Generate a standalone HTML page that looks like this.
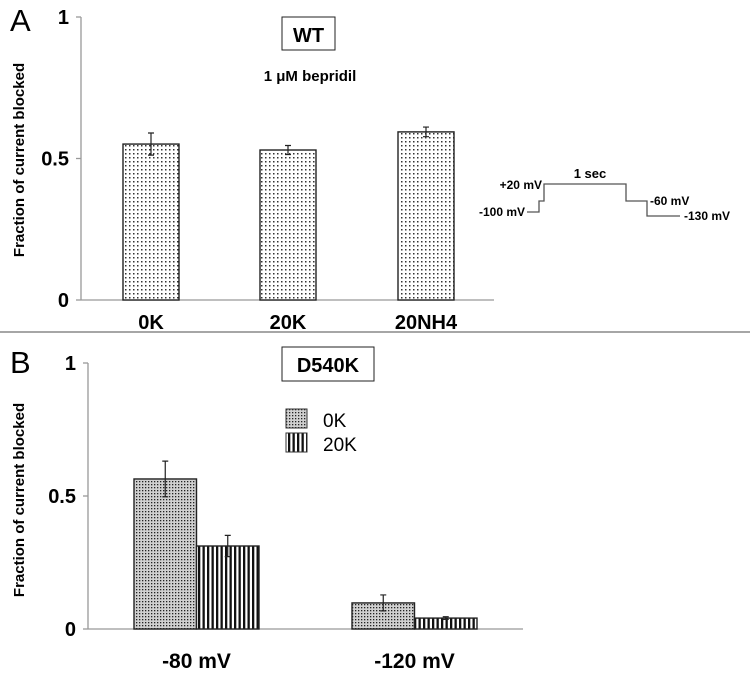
<!DOCTYPE html>
<html><head><meta charset="utf-8"><style>
html,body{margin:0;padding:0;background:#fff}
svg{display:block;font-family:"Liberation Sans",Arial,sans-serif}
</style></head><body>
<svg id="c" width="750" height="677" viewBox="0 0 750 677">
<defs>
<pattern id="dotsA" width="4" height="4" patternUnits="userSpaceOnUse"><rect width="4" height="4" fill="#fff"/><rect x="1" y="1" width="1.5" height="1.5" fill="#333"/></pattern>
<pattern id="dotsB" width="3" height="3" patternUnits="userSpaceOnUse"><rect width="3" height="3" fill="#d0d0d0"/><rect x="1" y="1" width="1.3" height="1.3" fill="#222"/></pattern>
<pattern id="stripes" width="4.5" height="4" patternUnits="userSpaceOnUse"><rect width="4.5" height="4" fill="#fff"/><rect x="0" y="0" width="2.3" height="4" fill="#111"/></pattern>
</defs>
<g id="panelA"></g>
<g id="panelB"></g>
<line x1="0" y1="332" x2="750" y2="332" stroke="#888" stroke-width="1.5"/>
<text x="10" y="31" font-size="31">A</text>
<text x="10" y="373" font-size="31">B</text>
<rect x="282" y="17" width="53" height="33" fill="#fff" stroke="#222"/>
<text x="308.5" y="42" font-size="20" font-weight="bold" text-anchor="middle">WT</text>
<text x="310" y="81" font-size="15" font-weight="bold" text-anchor="middle">1 μM bepridil</text>
<rect x="282" y="347" width="92" height="34" fill="#fff" stroke="#222"/>
<text x="328" y="372" font-size="20" font-weight="bold" text-anchor="middle">D540K</text>
<g>
<rect x="286" y="409" width="21" height="19" fill="url(#dotsB)" stroke="#333"/>
<text x="323" y="427" font-size="19">0K</text>
<rect x="286" y="433" width="21" height="19" fill="url(#stripes)" stroke="#333"/>
<text x="323" y="451" font-size="19">20K</text>
</g>
<g font-size="12" font-weight="bold">
<polyline points="527,212 539,212 539,201 544,201 544,184 626,184 626,201 647,201 647,216 680,216" fill="none" stroke="#555" stroke-width="1.3"/>
<text x="590" y="178" text-anchor="middle" font-size="13">1 sec</text>
<text x="542" y="189" text-anchor="end">+20 mV</text>
<text x="525" y="216" text-anchor="end">-100 mV</text>
<text x="650" y="205">-60 mV</text>
<text x="684" y="220">-130 mV</text>
</g>
</svg>
<script>
// Panel A data
const catsA = ['0K','20K','20NH4'];
const valsA = [0.551, 0.530, 0.594];
const errsA = [0.039, 0.016, 0.017];
// Panel B data
const groupsB = ['-80 mV','-120 mV'];
const vals0K = [0.564, 0.098];
const errs0K = [0.067, 0.030];
const vals20K = [0.312, 0.041];
const errs20K = [0.040, 0.005];
const ticks = [0, 0.5, 1];
const tickLabels = ['0','0.5','1'];

const NS='http://www.w3.org/2000/svg';
function mk(parent, tag, attrs, txt){const e=document.createElementNS(NS,tag);for(const k in attrs)e.setAttribute(k,attrs[k]);if(txt!==undefined)e.textContent=txt;parent.appendChild(e);return e;}

function axes(g, x0, x1, y0, y1, titleY){
  const y=v=>y0-(y0-y1)*v;
  let a=mk(g,'line',{x1:x0,y1:y0,x2:x0,y2:y1,stroke:'#999','stroke-width':1.3});
  
  
  a=mk(g,'line',{x1:x0,y1:y0,x2:x1,y2:y0,stroke:'#999','stroke-width':1.3});
  
  
  ticks.forEach((t,i)=>{
    const tk=mk(g,'line',{x1:x0-5,y1:y(t),x2:x0,y2:y(t),stroke:'#999','stroke-width':1.3});
    
    
    const tl=mk(g,'text',{x:x0-12,y:y(t)+7,'font-size':20,'font-weight':'bold','text-anchor':'end'},tickLabels[i]);
    
    
  });
  const tt=mk(g,'text',{x:0,y:0,'font-size':15,'font-weight':'bold','text-anchor':'middle',transform:`translate(24,${titleY}) rotate(-90)`},'Fraction of current blocked');
  
  
  return y;
}
function bar(g,x,w,v,e,y,fill,name){
  const r=mk(g,'rect',{x:x,y:y(v),width:w,height:y(0)-y(v),fill:fill,stroke:'#222','stroke-width':1.4});
  
  
  const cx=x+w/2;
  const eb=mk(g,'path',{d:`M${cx},${y(v+e)}V${y(v-e)}M${cx-3},${y(v+e)}H${cx+3}M${cx-3},${y(v-e)}H${cx+3}`,stroke:'#222','stroke-width':1.2,fill:'none'});
  
  
}
// Panel A
const gA=document.getElementById('panelA');
const yA=axes(gA,81,494,300,17,160);
const startsA=[123,260,398], bwA=56;
catsA.forEach((c,i)=>{
  bar(gA,startsA[i],bwA,valsA[i],errsA[i],yA,'url(#dotsA)','bar-'+c.toLowerCase());
  const t=mk(gA,'text',{x:startsA[i]+bwA/2,y:329,'font-size':20,'font-weight':'bold','text-anchor':'middle'},c);
  
  
});
// Panel B
const gB=document.getElementById('panelB');
const yB=axes(gB,88,523,629,363,500);
const startsB=[134,352], bwB=62.5;
groupsB.forEach((c,i)=>{
  bar(gB,startsB[i],bwB,vals0K[i],errs0K[i],yB,'url(#dotsB)','bar-0k-group-'+(i+1));
  bar(gB,startsB[i]+bwB,bwB,vals20K[i],errs20K[i],yB,'url(#stripes)','bar-20k-group-'+(i+1));
  const t=mk(gB,'text',{x:startsB[i]+bwB,y:668,'font-size':21,'font-weight':'bold','text-anchor':'middle'},c);
  
  
});
</script>
</body></html>
